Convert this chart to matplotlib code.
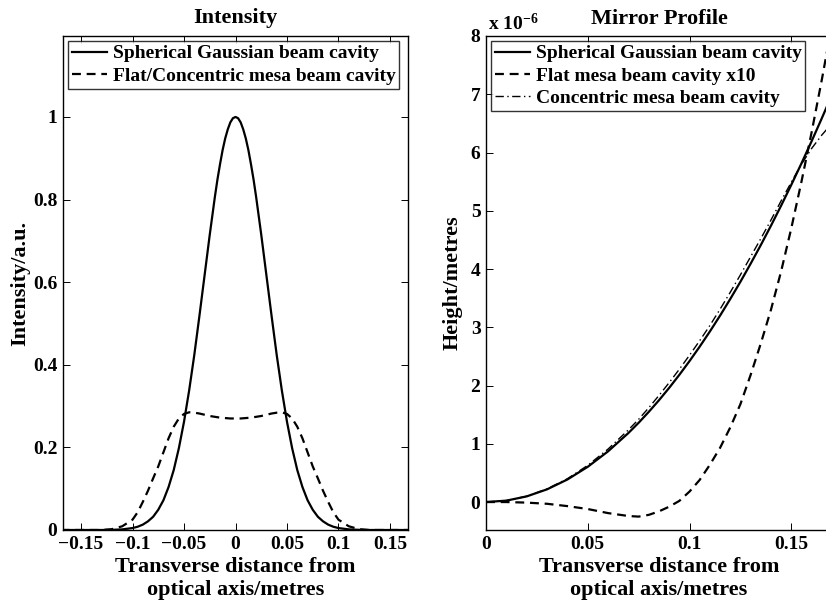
import matplotlib
matplotlib.use("Agg")
import matplotlib.pyplot as plt

plt.rcParams['font.family'] = ['Liberation Serif', 'DejaVu Serif']
plt.rcParams['font.weight'] = 'bold'
plt.rcParams['mathtext.fontset'] = 'custom'
plt.rcParams['mathtext.rm'] = 'Liberation Serif:bold'
plt.rcParams['mathtext.bf'] = 'Liberation Serif:bold'
plt.rcParams['mathtext.default'] = 'bf'

# ---- left panel: intensity profiles ----
x_int = [-0.17, -0.16, -0.15, -0.14, -0.13, -0.12, -0.11, -0.10, -0.095, -0.09,
         -0.085, -0.08, -0.075, -0.07, -0.065, -0.06, -0.055, -0.05, -0.045, -0.04,
         -0.035, -0.03, -0.025, -0.02, -0.0175, -0.015, -0.0125, -0.01, -0.0075, -0.005,
         -0.0025, 0.0, 0.0025, 0.005, 0.0075, 0.01, 0.0125, 0.015, 0.0175, 0.02,
         0.025, 0.03, 0.035, 0.04, 0.045, 0.05, 0.055, 0.06,
         0.065, 0.07, 0.075, 0.08, 0.085, 0.09, 0.095, 0.10, 0.11, 0.12,
         0.13, 0.14, 0.15, 0.16, 0.17]
gauss_int = [0.0, 0.0, 0.0, 0.0, 0.0, 0.0004, 0.0015, 0.0047, 0.0079, 0.013,
             0.021, 0.032, 0.049, 0.072, 0.104, 0.145, 0.198, 0.262, 0.338, 0.424,
             0.519, 0.617, 0.715, 0.807, 0.849, 0.886, 0.920, 0.948, 0.970, 0.987,
             0.997, 1.0, 0.997, 0.987, 0.970, 0.948, 0.920, 0.886, 0.849, 0.807,
             0.715, 0.617, 0.519, 0.424, 0.338, 0.262, 0.198, 0.145,
             0.104, 0.072, 0.049, 0.032, 0.021, 0.013, 0.0079, 0.0047, 0.0015, 0.0004,
             0.0, 0.0, 0.0, 0.0, 0.0]
mesa_int = [0.0, 0.0, 0.0, 0.0, 0.0, 0.002, 0.009, 0.025, 0.043, 0.068,
            0.095, 0.125, 0.154, 0.188, 0.222, 0.250, 0.270, 0.281, 0.285, 0.284,
            0.282, 0.279, 0.276, 0.274, 0.273, 0.272, 0.2715, 0.271, 0.2705, 0.270,
            0.270, 0.270, 0.270, 0.270, 0.2705, 0.271, 0.2715, 0.272, 0.273, 0.274,
            0.276, 0.279, 0.282, 0.284, 0.285, 0.281, 0.270, 0.250,
            0.222, 0.188, 0.154, 0.125, 0.095, 0.068, 0.043, 0.025, 0.009, 0.002,
            0.0, 0.0, 0.0, 0.0, 0.0]

# ---- right panel: mirror heights, units of 1e-6 m ----
x_mir = [0.0, 0.01, 0.02, 0.03, 0.04, 0.05, 0.06, 0.07, 0.075, 0.08,
         0.085, 0.09, 0.095, 0.10, 0.105, 0.11, 0.115, 0.12, 0.125, 0.13,
         0.135, 0.14, 0.145, 0.15, 0.155, 0.16, 0.165, 0.17]
sph_h = [0.0, 0.024, 0.097, 0.218, 0.387, 0.605, 0.871, 1.186, 1.361, 1.549,
         1.748, 1.960, 2.184, 2.420, 2.668, 2.928, 3.200, 3.485, 3.781, 4.090,
         4.410, 4.743, 5.088, 5.445, 5.814, 6.195, 6.588, 6.994]
flat_h = [0.0, 0.0, -0.01, -0.03, -0.07, -0.12, -0.19, -0.24, -0.25, -0.22,
          -0.16, -0.08, 0.02, 0.18, 0.38, 0.64, 0.93, 1.28, 1.68, 2.18,
          2.72, 3.30, 3.96, 4.70, 5.50, 6.35, 7.25, 8.20]
conc_h = [0.0, 0.025, 0.10, 0.226, 0.40, 0.63, 0.91, 1.24, 1.42, 1.62,
          1.83, 2.05, 2.28, 2.52, 2.77, 3.03, 3.31, 3.60, 3.90, 4.21,
          4.52, 4.84, 5.17, 5.49, 5.80, 6.07, 6.30, 6.50]

fig = plt.figure(figsize=(8.26, 6.1), dpi=100)
ax1 = fig.add_axes([63 / 826, 80 / 610, 345 / 826, 494 / 610])
ax2 = fig.add_axes([486 / 826, 80 / 610, 346 / 826, 494 / 610])

lw = 1.6
ax1.plot(x_int, gauss_int, color='k', lw=lw, label='Spherical Gaussian beam cavity')
ax1.plot(x_int, mesa_int, color='k', lw=lw, dashes=(4, 2.6),
         label='Flat/Concentric mesa beam cavity')
ax1.set_xlim(-0.1675, 0.1675)
ax1.set_ylim(0, 1.196)
ax1.set_xticks([-0.15, -0.1, -0.05, 0, 0.05, 0.1, 0.15])
ax1.set_xticklabels(['\u22120.15', '\u22120.1', '\u22120.05', '0', '0.05', '0.1', '0.15'])
ax1.set_yticks([0, 0.2, 0.4, 0.6, 0.8, 1.0])
ax1.set_yticklabels(['0', '0.2', '0.4', '0.6', '0.8', '1'])
ax1.set_title('Intensity', fontsize=16, fontweight='bold', pad=9)
ax1.set_xlabel('Transverse distance from\noptical axis/metres', fontsize=16,
               fontweight='bold', linespacing=1.2, labelpad=3)
ax1.set_ylabel('Intensity/a.u.', fontsize=16, fontweight='bold', labelpad=2)

ax2.plot(x_mir, sph_h, color='k', lw=lw, label='Spherical Gaussian beam cavity')
ax2.plot(x_mir, flat_h, color='k', lw=lw, dashes=(4, 2.6),
         label='Flat mesa beam cavity x10')
ax2.plot(x_mir, conc_h, color='k', lw=1.0, dashes=(6, 2.5, 1, 2.5),
         label='Concentric mesa beam cavity')
ax2.set_xlim(0, 0.17)
ax2.set_ylim(-0.48, 8)
ax2.set_xticks([0, 0.05, 0.1, 0.15])
ax2.set_xticklabels(['0', '0.05', '0.1', '0.15'])
ax2.set_yticks(range(0, 9))
ax2.set_title('Mirror Profile', fontsize=16, fontweight='bold', pad=9)
ax2.set_xlabel('Transverse distance from\noptical axis/metres', fontsize=16,
               fontweight='bold', linespacing=1.2, labelpad=3)
ax2.set_ylabel('Height/metres', fontsize=16, fontweight='bold', labelpad=6)
ax2.text(0.005, 1.004, r'x 10$^{-6}$', transform=ax2.transAxes, fontsize=14,
         fontweight='bold', va='bottom', ha='left')

for ax in (ax1, ax2):
    ax.tick_params(direction='in', top=True, right=(ax is ax1), length=5, width=0.7,
                   labelsize=14, pad=4)
    for s in ax.spines.values():
        s.set_linewidth(1.0)
    for t in ax.get_xticklabels() + ax.get_yticklabels():
        t.set_fontweight('bold')
    leg = ax.legend(loc='upper left', fontsize=14, frameon=True, fancybox=False,
                    borderaxespad=0.25, borderpad=0.2, labelspacing=0.25,
                    handlelength=1.8, handletextpad=0.3)
    leg.get_frame().set_edgecolor('k')
    leg.get_frame().set_linewidth(1.0)
    for t in leg.get_texts():
        t.set_fontweight('bold')

fig.savefig('out.png', dpi=100)
